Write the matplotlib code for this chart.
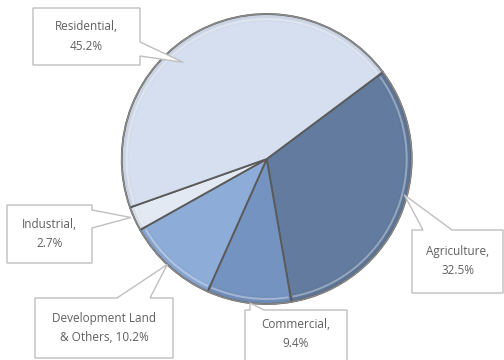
import numpy as np
import matplotlib
matplotlib.use("Agg")
import matplotlib.pyplot as plt
from matplotlib.patches import Polygon, Circle, Wedge

# Land use shares (%)
categorias = ["Agriculture", "Commercial", "Development Land\n& Others", "Industrial", "Residential"]
porcentajes = [32.5, 9.4, 10.2, 2.7, 45.2]
etiquetas = ["Agriculture,\n32.5%", "Commercial,\n9.4%", "Development Land\n& Others, 10.2%",
             "Industrial,\n2.7%", "Residential,\n45.2%"]
colores = ["#627b9f", "#7593c0", "#8dacd8", "#e2e9f3", "#d5dfef"]

W, H = 504, 360
fig = plt.figure(figsize=(W / 100, H / 100), dpi=100, facecolor="white")
ax = fig.add_axes([0, 0, 1, 1])

# pixel helpers (y measured from the top)
def px(x, y):
    return (x, H - y)

centro = px(266.7, 159)
radio = 145

cunas, _ = ax.pie(
    porcentajes,
    colors=colores,
    startangle=36.8,
    counterclock=False,
    radius=radio,
    center=centro,
    frame=True,
    wedgeprops={"edgecolor": "#5a5a5a", "linewidth": 1.3},
)

# bevel: darker rim and a light inner highlight
for k in range(8):
    ax.add_patch(Wedge(centro, radio - k, 0, 360, width=1.2,
                       facecolor="black", alpha=0.05 * (8 - k) / 8, lw=0, zorder=3))
for c in cunas:
    ax.add_patch(Wedge(centro, radio - 4, c.theta1 + 0.8, c.theta2 - 0.8, width=2,
                       facecolor="white", alpha=0.35, lw=0, zorder=3))
ax.add_patch(Circle(centro, radio, fill=False, edgecolor="#8a8a8a", lw=1.0, zorder=4))

# callout boxes: (x0, y0, x1, y1), side of the pointer, pointer base, tip nudge
cajas = [
    ((412, 230, 503, 293), "top", (423, 452), (7.1, 0.98)),
    ((245, 310, 347, 362), "top", (250, 264), (0.5, 1.0)),
    ((35, 298, 173, 358), "top", (117, 150), (-0.9, 1.0)),
    ((7, 205, 92, 263), "right", (210, 228), (-1.1, 1.02)),
    ((33, 8, 140, 65), "right", (42, 56), (12.6, 0.88)),
]

for c, texto, (caja, lado, base, (dang, frac)) in zip(cunas, etiquetas, cajas):
    ang = np.deg2rad((c.theta1 + c.theta2) / 2 + dang)
    tip = (centro[0] + frac * radio * np.cos(ang), centro[1] + frac * radio * np.sin(ang))
    x0, y0, x1, y1 = caja
    if lado == "top":
        pts = [px(x0, y0), px(base[0], y0), tip, px(base[1], y0), px(x1, y0),
               px(x1, y1), px(x0, y1)]
    else:
        pts = [px(x0, y0), px(x1, y0), px(x1, base[0]), tip, px(x1, base[1]),
               px(x1, y1), px(x0, y1)]
    ax.add_patch(Polygon(pts, closed=True, facecolor="white", edgecolor="#bfbfbf",
                         lw=1.0, zorder=5))
    cx, cy = px((x0 + min(x1, W)) / 2, (y0 + min(y1, H - 2)) / 2)
    ax.text(cx, cy, texto, ha="center", va="center", fontsize=8.5, color="#606060",
            family="Open Sans", linespacing=1.6, zorder=6)

ax.set_xlim(0, W)
ax.set_ylim(0, H)
ax.set_aspect("equal")
ax.axis("off")

fig.savefig("out.png", dpi=100, facecolor="white")
